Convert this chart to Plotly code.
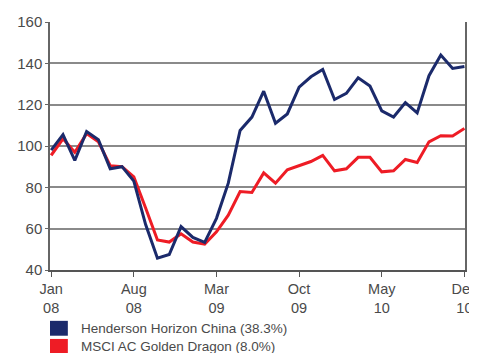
import plotly.graph_objects as go

# month index 0 = Jan 08 ... 35 = Dec 10, rebased to 100
months = list(range(36))
tick_pos = [0, 7, 14, 21, 28, 35]
tick_text = ["Jan<br>08", "Aug<br>08", "Mar<br>09", "Oct<br>09", "May<br>10", "Dec<br>10"]

henderson = [98, 105.5, 93, 107, 103, 89, 90, 83, 62, 45.7, 47.5, 61,
             55.8, 53.4, 65, 82, 107.5, 114, 126.5, 111, 115.5, 128.5, 133.5, 137,
             122.5, 125.5, 133, 129, 117, 114, 121, 116, 134, 144, 137.5, 138.5]
msci = [95.5, 103.5, 97, 106, 102, 90.5, 90, 85, 70, 54.5, 53.5, 57.5,
        53.5, 52.5, 58.5, 66.5, 78, 77.5, 87, 82, 88.5, 90.5, 92.5, 95.5,
        88, 89, 94.5, 94.5, 87.5, 88, 93.5, 92, 102, 105, 104.8, 108.5]

names = ["Henderson Horizon China (38.3%)", "MSCI AC Golden Dragon (8.0%)"]
_BLUE = "#1b2a6b"
_RED = "#ee1c25"
_TXT = "#4a4a4a"

fig = go.Figure()
# red underneath, blue on top
fig.add_trace(go.Scatter(x=months, y=msci, mode="lines", name=names[1],
                         line=dict(color=_RED, width=3)))
fig.add_trace(go.Scatter(x=months, y=henderson, mode="lines", name=names[0],
                         line=dict(color=_BLUE, width=3)))

# hand-made legend below the plot: square swatch + label
for i, (name, col) in enumerate(zip(names, [_BLUE, _RED])):
    y0 = -0.205 - i * 0.073
    fig.add_shape(type="rect", xref="paper", yref="paper",
                  x0=0.0, x1=0.043, y0=y0, y1=y0 - 0.06,
                  fillcolor=col, line=dict(width=0))
    fig.add_annotation(text=name, xref="paper", yref="paper",
                       x=0.07, y=y0 - 0.03, xanchor="left", yanchor="middle",
                       showarrow=False, font=dict(size=13.5, color=_TXT))

# page body adds an 8px margin, so the figure is 8px smaller than the window
fig.update_layout(
    width=469, height=345,
    margin=dict(l=42, r=12, t=14, b=83, autoexpand=False),
    paper_bgcolor="white", plot_bgcolor="white", showlegend=False,
    font=dict(family="Liberation Sans, Arial, sans-serif", color=_TXT, size=15),
    xaxis=dict(range=[-0.1, 35.05], tickvals=tick_pos, ticktext=tick_text,
               showgrid=False, showline=True, linecolor="#555", linewidth=1.5,
               ticks="outside", ticklen=5, tickcolor="#555", zeroline=False,
               automargin=False, ticklabeloverflow="allow",
               tickfont=dict(size=14.5)),
    yaxis=dict(range=[40, 160], dtick=20, showgrid=True, gridcolor="#8a8a8a",
               gridwidth=1.5, showline=True, linecolor="#666", linewidth=1.5,
               mirror=True, ticks="outside", ticklen=3, tickcolor="#666",
               zeroline=False, automargin=False, ticklabeloverflow="allow",
               tickfont=dict(size=15)),
)

fig.write_html("out.html")
